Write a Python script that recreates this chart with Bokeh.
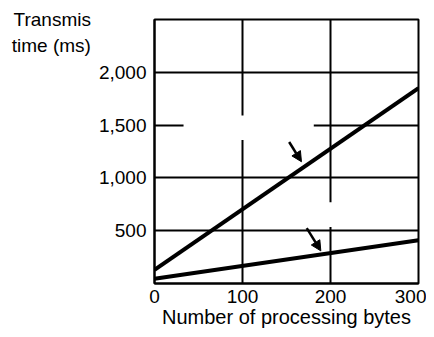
from bokeh.plotting import figure
from bokeh.models import Range1d, Arrow, NormalHead, BoxAnnotation, FixedTicker
from bokeh.embed import file_html
from bokeh.resources import INLINE

# data
bytes_x = [0, 300]
upper_ms = [130, 1850]
lower_ms = [45, 410]

x_ticks = [0, 100, 200, 300]
x_labels = {0: "0", 100: "100", 200: "200", 300: "300"}
y_ticks = [500, 1000, 1500, 2000]
y_labels = {500: "500", 1000: "1,000", 1500: "1,500", 2000: "2,000"}

# arrow pointers (start -> tip) in data units
arrow_x0 = [153, 173]
arrow_y0 = [1340, 525]
arrow_x1 = [167, 189]
arrow_y1 = [1153, 309]

FONT = "Liberation Sans"

p = figure(output_backend="svg", toolbar_location=None,
           x_range=Range1d(0, 300), y_range=Range1d(0, 2500),
           frame_width=264, frame_height=264,
           min_border_left=154, min_border_right=8, min_border_top=19, min_border_bottom=46)

p.background_fill_color = "white"
p.border_fill_color = "white"
p.outline_line_color = "black"
p.outline_line_width = 2

for ax in (p.xaxis[0], p.yaxis[0]):
    ax.axis_line_color = "black"
    ax.axis_line_width = 2
    ax.major_tick_in = 0
    ax.major_tick_out = 0
    ax.minor_tick_line_color = None
    ax.major_label_text_font = FONT
    ax.major_label_text_font_size = "19px"
    ax.major_label_text_color = "black"

p.xaxis.ticker = FixedTicker(ticks=x_ticks)
p.xaxis.major_label_overrides = x_labels
p.yaxis.ticker = FixedTicker(ticks=y_ticks)
p.yaxis.major_label_overrides = y_labels
p.xaxis.major_label_standoff = 6
p.yaxis.major_label_standoff = 8

p.xaxis.axis_label = "Number of processing bytes"
p.xaxis.axis_label_text_font = FONT
p.xaxis.axis_label_text_font_size = "20px"
p.xaxis.axis_label_text_font_style = "normal"
p.xaxis.axis_label_text_color = "black"
p.xaxis.axis_label_standoff = 0

# leading blank line moves the (centred) two-line title down to sit beside the top of the frame
p.yaxis.axis_label = "\nTransmis\ntime (ms)"
p.yaxis.axis_label_orientation = "horizontal"
p.yaxis.axis_label_align = "end"
p.yaxis.axis_label_text_align = "left"
p.yaxis.axis_label_text_font = FONT
p.yaxis.axis_label_text_font_size = "19px"
p.yaxis.axis_label_text_font_style = "normal"
p.yaxis.axis_label_text_color = "black"
p.yaxis.axis_label_text_line_height = 1.25
p.yaxis.axis_label_standoff = 5

p.xgrid.ticker = FixedTicker(ticks=[100, 200])
p.ygrid.ticker = FixedTicker(ticks=y_ticks)
for g in (p.xgrid[0], p.ygrid[0]):
    g.grid_line_color = "black"
    g.grid_line_width = 2
    g.grid_line_alpha = 1

# gaps in the grid lines
for l, r, b, t in [(96, 104, 1360, 1590), (33, 181, 1470, 1530), (196, 204, 534, 769)]:
    p.add_layout(BoxAnnotation(left=l, right=r, bottom=b, top=t, fill_color="white",
                               fill_alpha=1, line_alpha=0))

p.line(bytes_x, upper_ms, line_color="black", line_width=4)
p.line(bytes_x, lower_ms, line_color="black", line_width=4)

for xs, ys, xe, ye in zip(arrow_x0, arrow_y0, arrow_x1, arrow_y1):
    p.add_layout(Arrow(end=NormalHead(size=10, fill_color="black", line_color="black"),
                       x_start=xs, y_start=ys, x_end=xe, y_end=ye,
                       line_color="black", line_width=2.5))

open("out.html", "w").write(file_html(p, INLINE))
